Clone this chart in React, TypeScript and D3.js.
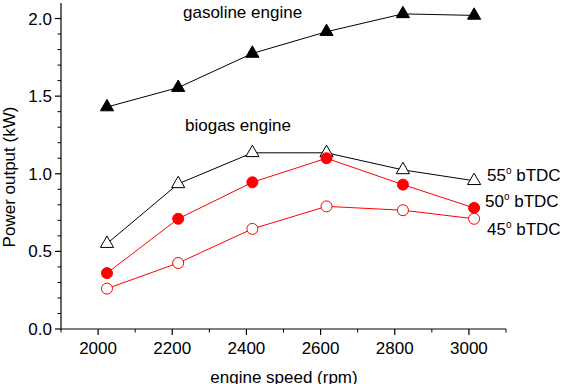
import React from "react";
import * as d3 from "d3";

const WIDTH = 567;
const HEIGHT = 384;
const MARGIN = { left: 61, right: 61, top: 3, bottom: 55 };

const SPEEDS = [2024, 2216, 2416, 2616, 2822, 3014];
const GASOLINE = [1.43, 1.555, 1.775, 1.915, 2.03, 2.02];
const BTDC_55 = [0.55, 0.935, 1.135, 1.135, 1.025, 0.955];
const BTDC_50 = [0.36, 0.71, 0.945, 1.1, 0.93, 0.78];
const BTDC_45 = [0.26, 0.425, 0.645, 0.79, 0.765, 0.71];

const X_TICKS = [2000, 2200, 2400, 2600, 2800, 3000];
const Y_TICKS = [0, 0.5, 1.0, 1.5, 2.0];

const FONT = "Arial, 'Liberation Sans', sans-serif";
const FS = 17;
const RED = "#ff0000";

type Series = {
  values: number[];
  color: string;
  marker: "triangle" | "circle";
  filled: boolean;
};

const SERIES: Series[] = [
  { values: GASOLINE, color: "#000", marker: "triangle", filled: true },
  { values: BTDC_55, color: "#000", marker: "triangle", filled: false },
  { values: BTDC_50, color: RED, marker: "circle", filled: true },
  { values: BTDC_45, color: RED, marker: "circle", filled: false },
];

export default function App() {
  const x = d3
    .scaleLinear()
    .domain([1900, 3100])
    .range([MARGIN.left, WIDTH - MARGIN.right]);
  const y = d3
    .scaleLinear()
    .domain([0, 2.1])
    .range([HEIGHT - MARGIN.bottom, MARGIN.top]);

  const line = d3
    .line<number>()
    .x((_, i) => x(SPEEDS[i]))
    .y((d) => y(d));

  const triangle = d3.symbol().type(d3.symbolTriangle).size(75)();

  const x0 = x.range()[0];
  const x1 = x.range()[1];
  const y0 = y.range()[0];

  const xMinor = d3.range(1900, 3101, 100).filter((v) => v % 200 !== 0);
  const yMinor = d3.range(0, 21).map((v) => v / 10).filter((v) => Math.round(v * 10) % 5 !== 0);

  const degLabel = (num: string, yPos: number, xPos: number) => (
    <text x={xPos} y={yPos} fontSize={FS} fontFamily={FONT} fill="#000">
      {num}
      <tspan fontSize={10} dy={-7}>o</tspan>
      <tspan dy={7}> bTDC</tspan>
    </text>
  );

  return (
    <svg
      width={WIDTH}
      height={HEIGHT}
      style={{ position: "absolute", left: 0, top: 0, background: "#fff" }}
    >
      {/* axes */}
      <line x1={x0} x2={x0} y1={y.range()[1]} y2={y0} stroke="#000" strokeWidth={1.2} />
      <line x1={x0} x2={x1} y1={y0} y2={y0} stroke="#000" strokeWidth={1.2} />

      {Y_TICKS.map((t) => (
        <g key={t}>
          <line x1={x0 - 6} x2={x0} y1={y(t)} y2={y(t)} stroke="#000" strokeWidth={1.2} />
          <text
            x={x0 - 9}
            y={y(t) + 6}
            textAnchor="end"
            fontSize={FS}
            fontFamily={FONT}
          >
            {t.toFixed(1)}
          </text>
        </g>
      ))}
      {yMinor.map((t) => (
        <line key={t} x1={x0 - 3.5} x2={x0} y1={y(t)} y2={y(t)} stroke="#000" strokeWidth={1} />
      ))}

      {X_TICKS.map((t) => (
        <g key={t}>
          <line x1={x(t)} x2={x(t)} y1={y0} y2={y0 + 6} stroke="#000" strokeWidth={1.2} />
          <text x={x(t)} y={y0 + 25} textAnchor="middle" fontSize={FS} fontFamily={FONT}>
            {t}
          </text>
        </g>
      ))}
      {xMinor.map((t) => (
        <line key={t} x1={x(t)} x2={x(t)} y1={y0} y2={y0 + 3.5} stroke="#000" strokeWidth={1} />
      ))}

      <text
        x={284}
        y={HEIGHT - 1}
        textAnchor="middle"
        fontSize={FS}
        fontFamily={FONT}
      >
        engine speed (rpm)
      </text>
      <text
        transform={`translate(15, 177) rotate(-90)`}
        textAnchor="middle"
        fontSize={FS}
        fontFamily={FONT}
      >
        Power output (kW)
      </text>

      {/* series */}
      {SERIES.map((s, si) => (
        <g key={si}>
          <path d={line(s.values) || ""} fill="none" stroke={s.color} strokeWidth={1} />
          {s.values.map((v, i) =>
            s.marker === "triangle" ? (
              <path
                key={i}
                d={triangle || ""}
                transform={`translate(${x(SPEEDS[i])}, ${y(v)})`}
                fill={s.filled ? s.color : "#fff"}
                stroke={s.color}
                strokeWidth={1}
              />
            ) : (
              <circle
                key={i}
                cx={x(SPEEDS[i])}
                cy={y(v)}
                r={5.5}
                fill={s.filled ? s.color : "#fff"}
                stroke={s.color}
                strokeWidth={1}
              />
            )
          )}
        </g>
      ))}

      {/* annotations */}
      <text x={183} y={18} fontSize={FS} fontFamily={FONT}>
        gasoline engine
      </text>
      <text x={185} y={131} fontSize={FS} fontFamily={FONT}>
        biogas engine
      </text>
      {degLabel("55", 181, 487)}
      {degLabel("50", 207, 485)}
      {degLabel("45", 235, 487)}
    </svg>
  );
}
